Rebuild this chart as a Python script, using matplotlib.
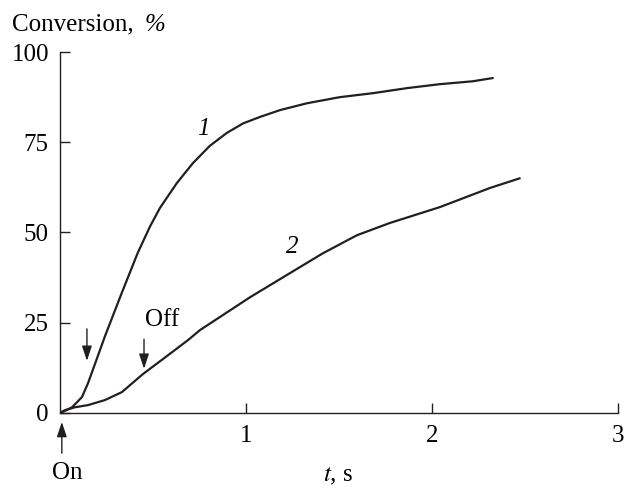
import matplotlib.pyplot as plt
import numpy as np

plt.rcParams['font.family'] = 'Liberation Serif'
plt.rcParams['mathtext.fontset'] = 'stix'

# curve 1
t1 = [0, 0.011, 0.065, 0.118, 0.151, 0.177, 0.242, 0.333, 0.419, 0.484, 0.538,
      0.629, 0.715, 0.806, 0.898, 0.984, 1.075, 1.183, 1.328, 1.505, 1.683,
      1.866, 2.043, 2.22, 2.328]
c1 = [0, 0.1, 1.5, 4.3, 8.2, 11.9, 21.2, 33.3, 44.4, 51.6, 56.8,
      63.7, 69.2, 74.0, 77.6, 80.2, 82.0, 83.9, 85.8, 87.5, 88.6,
      90.0, 91.1, 91.9, 92.8]

# curve 2
t2 = [0, 0.027, 0.081, 0.151, 0.242, 0.333, 0.446, 0.565, 0.688, 0.753, 1.022,
      1.237, 1.414, 1.597, 1.774, 2.043, 2.312, 2.473]
c2 = [0, 0.7, 1.5, 2.1, 3.5, 5.7, 10.7, 15.3, 20.1, 22.9, 32.0,
      38.7, 44.2, 49.2, 52.6, 57.0, 62.3, 65.0]

xticks = [1, 2, 3]
yticks = [0, 25, 50, 75, 100]

fig = plt.figure(figsize=(6.26, 4.96), dpi=100)
ax = fig.add_axes([0.0958, 0.168, 0.891, 0.727])

for t, c in [(t1, c1), (t2, c2)]:
    ax.plot(t, c, color='#231f20', linewidth=1.6,
            solid_joinstyle='round', solid_capstyle='round')

ax.set_xlim(0, 3)
ax.set_ylim(0, 100)
ax.set_xticks(xticks)
ax.set_yticks(yticks)
ax.spines['top'].set_visible(False)
ax.spines['right'].set_visible(False)
for s in ['left', 'bottom']:
    ax.spines[s].set_linewidth(1.0)
    ax.spines[s].set_color('#231f20')
ax.tick_params(direction='in', length=7, width=1.0, labelsize=18, color='#231f20')
ax.tick_params(axis='x', pad=9)
ax.tick_params(axis='y', pad=8)

# labels
fig.text(0.019, 0.95, 'Conversion,', fontsize=18, va='center', ha='left')
fig.text(0.231, 0.95, '%', fontsize=18, va='center', ha='left', style='italic')
fig.text(0.54, 0.018, '$t$, s', fontsize=18, ha='center', va='bottom')

ax.text(0.77, 78.6, '1', fontsize=18, style='italic', ha='center', va='center')
ax.text(1.247, 46, '2', fontsize=18, style='italic', ha='center', va='center')

ap = dict(arrowstyle='-|>,head_width=0.3,head_length=0.9', color='#231f20', lw=1.0)
ax.annotate('', xy=(0.145, 13.6), xytext=(0.145, 24), arrowprops=ap)
ax.annotate('', xy=(0.452, 11.4), xytext=(0.452, 21.1), arrowprops=ap)
ax.text(0.55, 25.8, 'Off', fontsize=18, ha='center', va='center')
ax.annotate('', xy=(0.01, -1.8), xytext=(0.01, -12.0), arrowprops=ap,
            annotation_clip=False)
ax.text(0.04, -16.8, 'On', fontsize=18, ha='center', va='center', clip_on=False)

fig.savefig('out.png', dpi=100)
